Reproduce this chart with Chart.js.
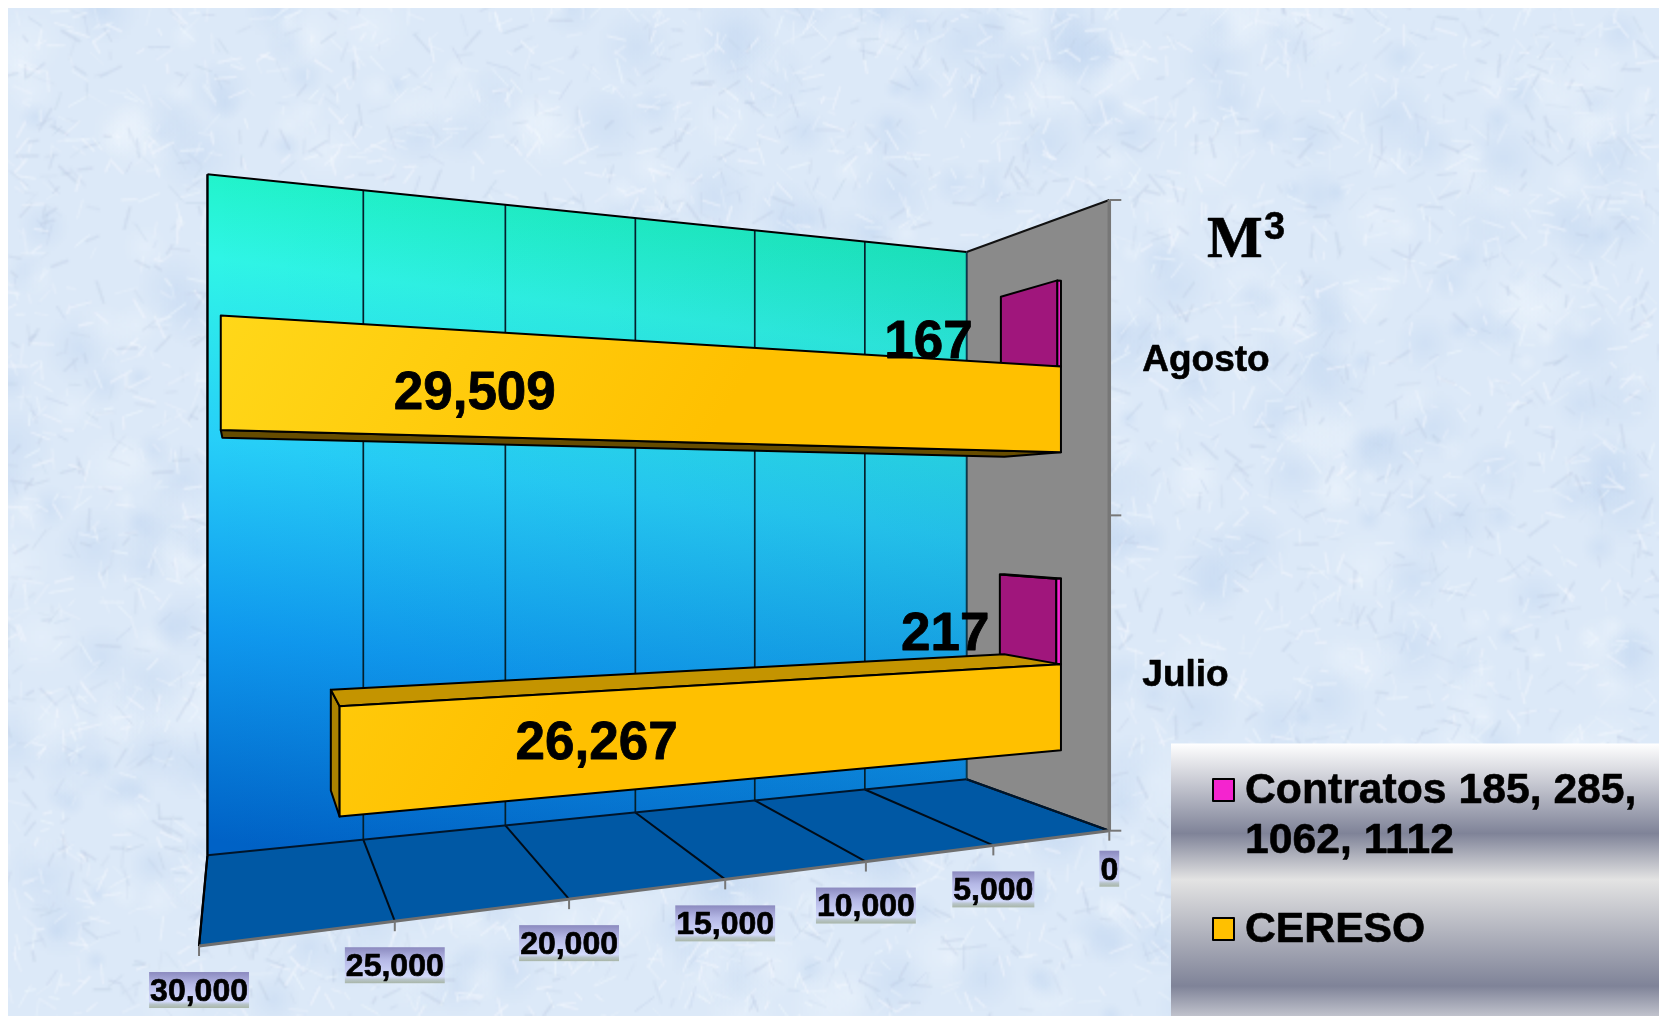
<!DOCTYPE html>
<html>
<head>
<meta charset="utf-8">
<title>M3 Agosto Julio</title>
<script src="https://cdn.jsdelivr.net/npm/chart.js@4"></script>
<style>
  html, body { margin: 0; padding: 0; background: #fff; }
  canvas { display: block; }
</style>
</head>
<body>
<canvas id="grafico" width="1659" height="1016"></canvas>
<script>
// Datos
const meses = ["Agosto", "Julio"];
const contratos = [167, 217];
const cereso = [29509, 26267];
const nombreContratos = "Contratos 185, 285, 1062, 1112";
const nombreCereso = "CERESO";
const unidad = "M";
const exponente = "3";
const valorMaximo = 30000;
const pasoEje = 5000;

// Perspectiva: t = valor/max, h = altura (0-1), z = profundidad (0 frente, 1 fondo)
const cam = { a: -964, c: 46.8, x0: 1109.3, d: -140.1, e: -630.7, f: 101.35, y0: 830.7, g: -0.27, i: 0.196 };
const zFrente = 0.3;
const zFondo = 0.7;
const fuente = '"Liberation Sans", Arial, sans-serif';

function proyectar(t, h, z) {
  const w = 1 + cam.g * t + cam.i * z;
  return {
    x: (cam.a * t + cam.c * z + cam.x0) / w,
    y: (cam.d * t + cam.e * h + cam.f * z + cam.y0) / w,
  };
}

function poligono(ctx, pts, relleno, borde, grosor) {
  ctx.beginPath();
  pts.forEach((p, i) => (i ? ctx.lineTo(p.x, p.y) : ctx.moveTo(p.x, p.y)));
  ctx.closePath();
  if (relleno) { ctx.fillStyle = relleno; ctx.fill(); }
  if (borde) { ctx.strokeStyle = borde; ctx.lineWidth = grosor || 2; ctx.lineJoin = "round"; ctx.stroke(); }
}

function linea(ctx, p, q, color, grosor) {
  ctx.beginPath();
  ctx.moveTo(p.x, p.y);
  ctx.lineTo(q.x, q.y);
  ctx.strokeStyle = color;
  ctx.lineWidth = grosor;
  ctx.stroke();
}

// texto un poco mas grueso, como en la lamina
function texto(ctx, txt, x, y, extra) {
  ctx.fillStyle = "#000";
  ctx.strokeStyle = "#000";
  ctx.lineWidth = extra;
  ctx.lineJoin = "round";
  ctx.strokeText(txt, x, y);
  ctx.fillText(txt, x, y);
}

// Fondo tipo marmol (solo decoracion), a media resolucion para que quede suave
function fondo(ctx, W, H) {
  ctx.fillStyle = "#fff";
  ctx.fillRect(0, 0, W, H);
  const lienzo = document.createElement("canvas");
  lienzo.width = W / 2;
  lienzo.height = H / 2;
  const c = lienzo.getContext("2d");
  c.fillStyle = "#dce9f8";
  c.fillRect(0, 0, W, H);
  let s = 12345;
  const r = () => (s = (s * 1103515245 + 12345) % 2147483648) / 2147483648;
  for (let n = 0; n < 700; n++) {
    const x = r() * W / 2, y = r() * H / 2, rad = 5 + r() * 16;
    const tono = r() < 0.55 ? "190,212,240" : "240,247,254";
    const g = c.createRadialGradient(x, y, 0, x, y, rad);
    g.addColorStop(0, `rgba(${tono},0.38)`);
    g.addColorStop(1, `rgba(${tono},0)`);
    c.fillStyle = g;
    c.fillRect(x - rad, y - rad, rad * 2, rad * 2);
  }
  c.lineCap = "round";
  for (let n = 0; n < 9000; n++) {
    const x = r() * W / 2, y = r() * H / 2, ang = r() * 6.283, l = 3 + r() * 9;
    c.strokeStyle = r() < 0.6 ? "rgba(246,250,255,0.3)" : "rgba(190,205,228,0.22)";
    c.lineWidth = 0.7 + r() * 0.7;
    c.beginPath();
    c.moveTo(x, y);
    c.lineTo(x + Math.cos(ang) * l, y + Math.sin(ang) * l);
    c.stroke();
  }
  ctx.save();
  ctx.beginPath();
  ctx.rect(8, 8, W - 8, H - 8);
  ctx.clip();
  ctx.imageSmoothingEnabled = true;
  ctx.drawImage(lienzo, 0, 0, W, H);
  ctx.restore();
}

function paredes(chart) {
  const ctx = chart.ctx;
  const esc = chart.scales.x;
  const fondoA = proyectar(1, 1, 1), fondoB = proyectar(0, 1, 1), fondoC = proyectar(0, 0, 1), fondoD = proyectar(1, 0, 1);
  const frenteA = proyectar(0, 1, 0), frenteB = proyectar(0, 0, 0), frenteC = proyectar(1, 0, 0);

  const g = ctx.createLinearGradient(420, fondoA.y, 330, fondoD.y);
  g.addColorStop(0, "#1df3c2");
  g.addColorStop(0.16, "#2ff5e6");
  g.addColorStop(0.42, "#27cff8");
  g.addColorStop(0.7, "#0f98ee");
  g.addColorStop(1, "#0062c6");
  poligono(ctx, [fondoA, fondoB, fondoC, fondoD], g);
  // oscurece un poco hacia la derecha
  const sombra = ctx.createLinearGradient(fondoA.x, 0, fondoB.x, 0);
  sombra.addColorStop(0, "rgba(0,40,80,0)");
  sombra.addColorStop(1, "rgba(0,40,80,0.1)");
  poligono(ctx, [fondoA, fondoB, fondoC, fondoD], sombra);

  poligono(ctx, [fondoB, frenteA, frenteB, fondoC], "#8a8a8a");
  poligono(ctx, [fondoD, fondoC, frenteB, frenteC], "#0058a4");

  esc.ticks.forEach((tick) => {
    const t = tick.value / valorMaximo;
    linea(ctx, proyectar(t, 1, 1), proyectar(t, 0, 1), "#04202c", 1.7);
    linea(ctx, proyectar(t, 0, 1), proyectar(t, 0, 0), "#000c18", 2);
  });

  linea(ctx, fondoA, fondoB, "#000", 2);
  linea(ctx, fondoB, frenteA, "#111", 2);
  linea(ctx, fondoD, fondoC, "#00152a", 2);
  linea(ctx, fondoC, frenteB, "#00152a", 2);
  linea(ctx, fondoB, fondoC, "#0a3a50", 1.2);
  linea(ctx, fondoA, fondoD, "#000", 2.2);
  linea(ctx, fondoD, proyectar(1, 0, 0), "#000", 2.2);

  // ejes en gris
  linea(ctx, frenteA, frenteB, "#777", 3.5);
  linea(ctx, frenteB, frenteC, "#6f6f6f", 3);
  for (let n = 0; n <= meses.length; n++) {
    const p = proyectar(0, n / meses.length, 0);
    linea(ctx, p, { x: p.x + 12, y: p.y }, "#777", 2);
  }
  esc.ticks.forEach((tick) => {
    const p = proyectar(tick.value / valorMaximo, 0, 0);
    linea(ctx, p, { x: p.x, y: p.y + 10 }, "#777", 2);
  });
}

function barra(chart, el, dataset) {
  const ctx = chart.ctx;
  const area = chart.chartArea;
  const T = (px) => (area.right - px) / area.width;
  const Hh = (py) => (area.bottom - py) / area.height;
  const t0 = T(el.base), t1 = T(el.x);
  const hA = Hh(el.y - el.height / 2), hB = Hh(el.y + el.height / 2);

  const fA = proyectar(t1, hA, zFrente), fB = proyectar(t0, hA, zFrente), fC = proyectar(t0, hB, zFrente), fD = proyectar(t1, hB, zFrente);
  const bA = proyectar(t1, hA, zFondo), bB = proyectar(t0, hA, zFondo), bC = proyectar(t0, hB, zFondo), bD = proyectar(t1, hB, zFondo);

  if (bA.x < fA.x - 0.5) poligono(ctx, [bA, fA, fD, bD], dataset.colorTapa, "#000");
  if (bA.y < fA.y) poligono(ctx, [bA, bB, fB, fA], dataset.colorArriba, "#000");
  if (bD.y > fD.y) poligono(ctx, [fD, fC, bC, bD], dataset.colorAbajo, "#000");

  let relleno = dataset.backgroundColor;
  if (dataset.degradado) {
    relleno = ctx.createLinearGradient(170, 290, 640, 560);
    relleno.addColorStop(0, "#ffda1c");
    relleno.addColorStop(1, dataset.backgroundColor);
  }
  poligono(ctx, [fA, fB, fC, fD], relleno, "#000");
}

function etiquetas(chart) {
  const ctx = chart.ctx;
  const area = chart.chartArea;
  ctx.textAlign = "center";
  ctx.textBaseline = "middle";
  ctx.font = `bold 53px ${fuente}`;
  chart.data.datasets.forEach((ds, i) => {
    chart.getDatasetMeta(i).data.forEach((el, j) => {
      const p = proyectar((area.right - el.x) / area.width, (area.bottom - el.y) / area.height, zFrente);
      const mueve = ds.etiquetaDesvio[j];
      texto(ctx, ds.data[j].toLocaleString("en-US"), p.x + mueve[0], p.y + mueve[1], 0.8);
    });
  });
}

function ejes(chart) {
  const ctx = chart.ctx;
  const esc = chart.scales.x;
  const cat = chart.scales.y;
  const area = chart.chartArea;
  ctx.textBaseline = "middle";

  // ticks de valores con su etiqueta de fondo degradado
  ctx.font = `bold 32px ${fuente}`;
  esc.ticks.forEach((tick) => {
    const p = proyectar(tick.value / valorMaximo, 0, 0);
    const ancho = ctx.measureText(tick.label).width + 2;
    const alto = 36;
    const izq = p.x - ancho / 2;
    const arriba = p.y + (tick.value === 0 ? 20 : 26);
    const g = ctx.createLinearGradient(0, arriba, 0, arriba + alto);
    g.addColorStop(0, "#8b8abf");
    g.addColorStop(0.35, "#b5b8e6");
    g.addColorStop(0.82, "#d3dafc");
    g.addColorStop(0.9, "#b7c4c8");
    g.addColorStop(1, "#a9b6a8");
    ctx.fillStyle = g;
    ctx.fillRect(izq, arriba, ancho, alto);
    ctx.textAlign = "center";
    texto(ctx, tick.label, p.x, arriba + alto / 2 + 2, 0.7);
  });

  // categorias
  ctx.font = `bold 37px ${fuente}`;
  ctx.textAlign = "left";
  cat.ticks.forEach((tick, i) => {
    const p = proyectar(0, (area.bottom - cat.getPixelForTick(i)) / area.height, 0);
    texto(ctx, tick.label, p.x + 33, p.y + 3, 0.6);
  });

  // unidad
  ctx.textBaseline = "alphabetic";
  ctx.font = 'bold 59px "Liberation Serif", serif';
  texto(ctx, unidad, 1207, 257, 0.6);
  ctx.font = `bold 38px ${fuente}`;
  texto(ctx, exponente, 1264, 239, 0.5);
}

function leyenda(chart) {
  const ctx = chart.ctx;
  const W = chart.width, H = chart.height;
  const izq = 1171, arriba = 743.5;
  const g = ctx.createLinearGradient(0, arriba, 0, H);
  g.addColorStop(0, "#ffffff");
  g.addColorStop(0.33, "#7f8398");
  g.addColorStop(0.5, "#e3e3e3");
  g.addColorStop(0.89, "#7f8398");
  g.addColorStop(1, "#c0c2cc");
  ctx.fillStyle = g;
  ctx.fillRect(izq, arriba, W - izq, H - arriba);

  ctx.font = `bold 42.7px ${fuente}`;
  ctx.textAlign = "left";
  ctx.textBaseline = "alphabetic";
  const anchoMax = 410;
  let base = 803;
  chart.data.datasets.forEach((ds) => {
    const lineas = [];
    let actual = "";
    ds.label.split(" ").forEach((pal) => {
      const prueba = actual ? actual + " " + pal : pal;
      if (ctx.measureText(prueba).width > anchoMax) { lineas.push(actual); actual = pal; } else actual = prueba;
    });
    lineas.push(actual);
    ctx.fillStyle = ds.backgroundColor;
    ctx.strokeStyle = "#000";
    ctx.lineWidth = 2;
    ctx.fillRect(1213, base - 24, 21, 22);
    ctx.strokeRect(1213, base - 24, 21, 22);
    lineas.forEach((txt, i) => texto(ctx, txt, 1245, base + i * 50, 0.6));
    base += (lineas.length - 1) * 50 + 89;
  });
}

const perspectiva = {
  id: "perspectiva",
  beforeDraw(chart) {
    fondo(chart.ctx, chart.width, chart.height);
    paredes(chart);
  },
  // las barras planas no se pintan, se pintan abajo con la perspectiva
  beforeDatasetDraw() {
    return false;
  },
  afterDatasetsDraw(chart) {
    chart.data.datasets.forEach((ds, i) => {
      chart.getDatasetMeta(i).data.forEach((el) => barra(chart, el, ds));
    });
    etiquetas(chart);
    ejes(chart);
    leyenda(chart);
  },
};

new Chart(document.getElementById("grafico"), {
  type: "bar",
  data: {
    labels: meses,
    datasets: [
      {
        label: nombreContratos,
        data: contratos,
        backgroundColor: "#f424cf",
        colorTapa: "#a0167c",
        colorArriba: "#a0167c",
        colorAbajo: "#5c0c48",
        etiquetaDesvio: [[-129, 20], [-111, 14]],
        barPercentage: 1,
        categoryPercentage: 0.576,
      },
      {
        label: nombreCereso,
        data: cereso,
        backgroundColor: "#ffc000",
        colorTapa: "#ab8200",
        colorArriba: "#c49400",
        colorAbajo: "#664c00",
        degradado: true,
        etiquetaDesvio: [[254, 22], [257, -17]],
        barPercentage: 1,
        categoryPercentage: 0.576,
      },
    ],
  },
  options: {
    indexAxis: "y",
    responsive: false,
    animation: false,
    layout: { padding: 0 },
    plugins: { legend: { display: false }, tooltip: { enabled: false } },
    scales: {
      x: {
        display: false,
        reverse: true,
        min: 0,
        max: valorMaximo,
        ticks: { stepSize: pasoEje, callback: (v) => v.toLocaleString("en-US") },
      },
      y: { display: false },
    },
  },
  plugins: [perspectiva],
});
</script>
</body>
</html>
